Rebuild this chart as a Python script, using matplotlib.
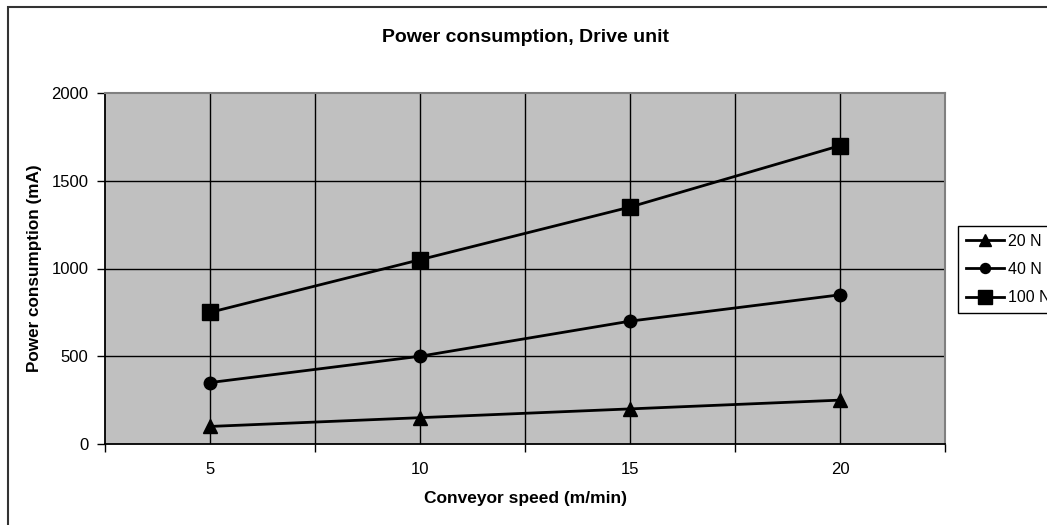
import matplotlib
matplotlib.use("Agg")
import matplotlib.pyplot as plt
from matplotlib.patches import Rectangle
import numpy as np

categories = ["5", "10", "15", "20"]
series_names = ["20 N", "40 N", "100 N"]
vals_20 = [100, 150, 200, 250]
vals_40 = [350, 500, 700, 850]
vals_100 = [750, 1050, 1350, 1700]
yticks = [0, 500, 1000, 1500, 2000]

plt.rcParams['font.family'] = ['Liberation Sans', 'DejaVu Sans']

W, H = 1047, 525
fig = plt.figure(figsize=(W / 100, H / 100), dpi=100)
fig.patch.set_facecolor('white')

# outer chart border (extends past right/bottom edge)
fig.patches.append(Rectangle((8 / W, -0.2), 2.0, 1.2 - 7 / H, transform=fig.transFigure,
                             fill=False, edgecolor='#333333', linewidth=1.5))

left, right, top, bottom = 105, 945, 93, 444
ax = fig.add_axes([left / W, 1 - bottom / H, (right - left) / W, (bottom - top) / H])
ax.set_facecolor('#C0C0C0')

x = np.arange(len(categories))
ax.set_xlim(-0.5, len(categories) - 0.5)
ax.set_ylim(0, 2000)

# grid lines
for yv in yticks[1:-1]:
    ax.axhline(yv, color='black', linewidth=1.0, zorder=1)
for xv in np.arange(-0.5, len(categories) - 0.49, 0.5)[1:-1]:
    ax.axvline(xv, color='black', linewidth=1.0, zorder=1)

ax.plot(x, vals_20, color='black', linewidth=2, marker='^', markersize=10, label=series_names[0], zorder=3)
ax.plot(x, vals_40, color='black', linewidth=2, marker='o', markersize=9, label=series_names[1], zorder=3)
ax.plot(x, vals_100, color='black', linewidth=2, marker='s', markersize=12, label=series_names[2], zorder=3)

ax.set_yticks(yticks)
ax.set_yticklabels([str(v) for v in yticks], fontsize=12)
ax.set_xticks(np.arange(-0.5, len(categories), 1.0))
ax.set_xticklabels([])
ax.set_xticks(x, minor=True)
ax.set_xticklabels(categories, minor=True, fontsize=12)
ax.tick_params(axis='x', which='major', direction='out', length=6, width=1, color='black')
ax.tick_params(axis='x', which='minor', length=0, pad=13)
ax.tick_params(axis='y', direction='out', length=6, width=1, pad=6)

for s in ['left', 'bottom']:
    ax.spines[s].set_color('black')
    ax.spines[s].set_linewidth(1.3)
for s in ['top', 'right']:
    ax.spines[s].set_color('#808080')
    ax.spines[s].set_linewidth(1.5)

fig.text(525 / W, 1 - 38 / H, "Power consumption, Drive unit", ha='center', va='center',
         fontsize=14, fontweight='bold')
fig.text(525 / W, 1 - 499 / H, "Conveyor speed (m/min)", ha='center', va='center',
         fontsize=12.5, fontweight='bold')
fig.text(35 / W, 1 - 268 / H, "Power consumption (mA)", ha='center', va='center',
         fontsize=12.3, fontweight='bold', rotation=90)

leg = fig.legend(loc='upper left', bbox_to_anchor=(958 / W, 1 - 226 / H), borderaxespad=0,
                 fontsize=11.5, handlelength=2.4, handletextpad=0.2, labelspacing=0.82,
                 fancybox=False, edgecolor='black', framealpha=1, borderpad=0.5,
                 markerscale=0.8)
leg.get_frame().set_linewidth(1.0)

fig.savefig("out.png", dpi=100)
